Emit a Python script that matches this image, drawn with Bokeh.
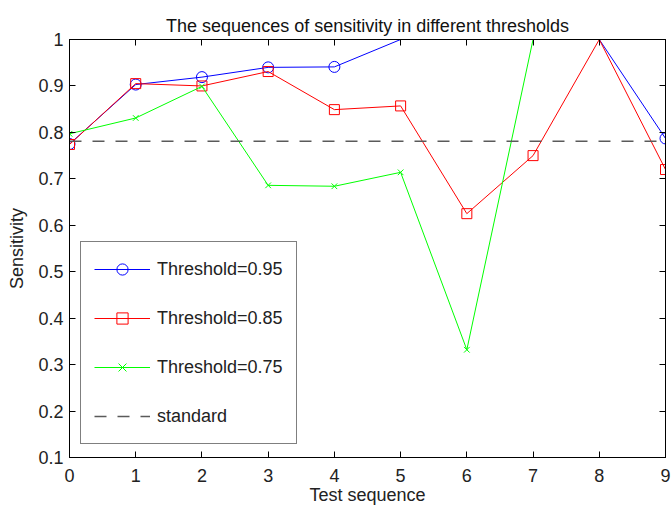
from bokeh.plotting import figure
from bokeh.models import (ColumnDataSource, CDSView, BooleanFilter, LinearAxis,
                          Legend, LegendItem, Range1d, FixedTicker)
from bokeh.embed import file_html
from bokeh.resources import INLINE

# ---- data ----
test_seq = [0, 1, 2, 3, 4, 5, 6, 7, 8, 9]
sens_095 = [0.775, 0.903, 0.919, 0.940, 0.941, 1.0, 1.0, 1.0, 1.0, 0.787]
sens_085 = [0.774, 0.905, 0.900, 0.931, 0.849, 0.857, 0.625, 0.750, 1.0, 0.720]
sens_075 = [0.797, 0.831, 0.899, 0.686, 0.684, 0.714, 0.332, 1.0, 1.0, 1.0]
standard = 0.781
x_ticks = [0, 1, 2, 3, 4, 5, 6, 7, 8, 9]
y_ticks = [0.1, 0.2, 0.3, 0.4, 0.5, 0.6, 0.7, 0.8, 0.9, 1.0]
y_max = 1.0

FONT = "Liberation Sans"

p = figure(width=671, height=508, output_backend="svg", toolbar_location=None,
           x_range=Range1d(0, 9), y_range=Range1d(0.1, 1.0),
           frame_width=596, frame_height=418,
           min_border_left=69, min_border_right=6, min_border_top=39,
           min_border_bottom=51)
p.background_fill_color = "white"
p.border_fill_color = "white"
p.outline_line_color = "black"
p.outline_line_width = 1
p.grid.visible = False

p.title.text = "The sequences of sensitivity in different thresholds"
p.title.text_font = FONT
p.title.text_font_size = "18px"
p.title.text_font_style = "normal"
p.title.text_color = "#111111"
p.title.align = "center"
p.title.offset = 0
p.title.standoff = 8

for ax in (p.xaxis[0], p.yaxis[0]):
    ax.major_label_text_font = FONT
    ax.major_label_text_font_size = "18px"
    ax.axis_label_text_font = FONT
    ax.axis_label_text_font_size = "18px"
    ax.axis_label_text_font_style = "normal"
    ax.major_tick_in = 6
    ax.major_tick_out = 0
    ax.minor_tick_in = 0
    ax.minor_tick_out = 0
    ax.axis_line_color = "black"
    ax.major_tick_line_color = "black"
    ax.major_label_text_color = "#222222"
    ax.axis_label_text_color = "#222222"

p.xaxis[0].ticker = FixedTicker(ticks=x_ticks)
p.yaxis[0].ticker = FixedTicker(ticks=y_ticks)
p.yaxis[0].major_label_overrides = {1.0: "1"}
p.xaxis.axis_label = "Test sequence"
p.yaxis.axis_label = "Sensitivity"
p.xaxis.major_label_standoff = 11
p.xaxis.axis_label_standoff = 0
p.yaxis.major_label_standoff = 6
p.yaxis.axis_label_standoff = 8

# box ticks on top/right (no labels)
top_ax = LinearAxis(ticker=FixedTicker(ticks=x_ticks), major_tick_in=6, major_tick_out=0,
                    minor_tick_in=0, minor_tick_out=0,
                    major_label_overrides={t: "" for t in x_ticks},
                    major_label_standoff=0, axis_line_color="black")
right_ax = LinearAxis(ticker=FixedTicker(ticks=y_ticks), major_tick_in=6, major_tick_out=0,
                      minor_tick_in=0, minor_tick_out=0,
                      major_label_overrides={t: "" for t in y_ticks},
                      major_label_standoff=0, axis_line_color="black")
p.add_layout(top_ax, "above")
p.add_layout(right_ax, "right")

def series(vals, color, marker, size):
    src = ColumnDataSource(dict(x=test_seq, y=vals))
    view = CDSView(filter=BooleanFilter([v < y_max for v in vals]))
    ln = p.line("x", "y", source=src, line_color=color, line_width=1)
    mk = p.scatter("x", "y", source=src, view=view, marker=marker, size=size,
                   line_color=color, fill_color=None, line_width=1)
    return [ln, mk]

r95 = series(sens_095, "#0000ff", "circle", 11)
r85 = series(sens_085, "#ff0000", "square", 10)
r75 = series(sens_075, "#00ff00", "x", 8)

std_src = ColumnDataSource(dict(x=test_seq, y=[standard] * len(test_seq)))
rstd = p.line("x", "y", source=std_src, line_color="#5a5a5a", line_width=1.6,
              line_dash="12 11")

legend = Legend(items=[
    LegendItem(label="Threshold=0.95", renderers=r95),
    LegendItem(label="Threshold=0.85", renderers=r85),
    LegendItem(label="Threshold=0.75", renderers=r75),
    LegendItem(label="standard", renderers=[rstd]),
], location=(11, 13))
legend.label_text_font = FONT
legend.label_text_font_size = "18px"
legend.label_text_color = "#222222"
legend.glyph_width = 56
legend.glyph_height = 28
legend.spacing = 21
legend.padding = 13
legend.margin = 0
legend.label_standoff = 7
legend.border_line_color = "black"
legend.border_line_width = 1.5
legend.background_fill_color = "white"
legend.background_fill_alpha = 1
p.add_layout(legend, "center")

open("out.html", "w").write(file_html(p, INLINE))
